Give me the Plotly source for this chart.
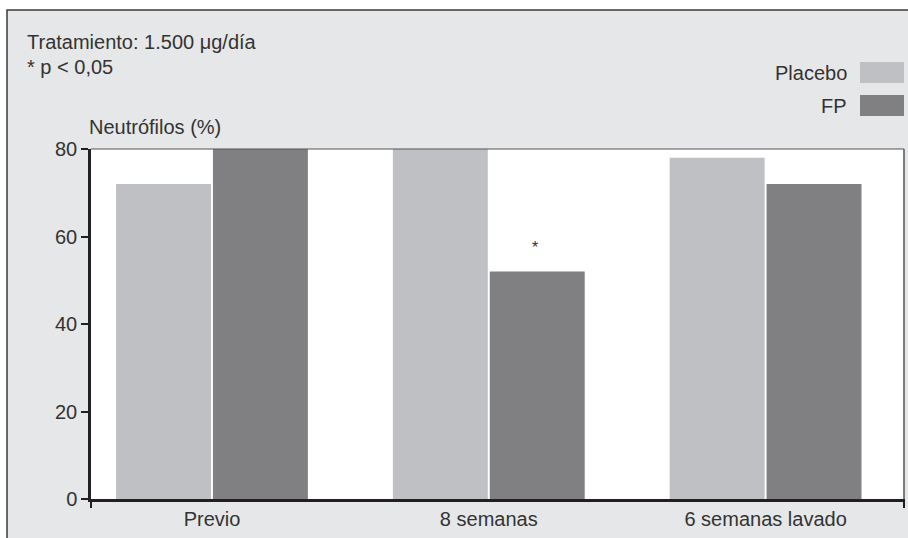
import plotly.graph_objects as go

categories = ["Previo", "8 semanas", "6 semanas lavado"]
placebo = [72, 80, 78]
fp = [80, 52, 72]
y_ticks = [0, 20, 40, 60, 80]

FONT = "Liberation Sans, Arial, sans-serif"
TXT = "#333333"
FS = 20
W, H = 908, 538
L, R, T, B = 91, 4, 149, 39
pw, ph = W - L - R, H - T - B

def px(x):
    return (x - L) / pw

def py(y):
    return (H - B - y) / ph

fig = go.Figure()
fig.add_bar(x=categories, y=placebo, name="Placebo", marker=dict(color="#bfc0c3", line=dict(width=0)))
fig.add_bar(x=categories, y=fp, name="FP", marker=dict(color="#808083", line=dict(width=0)))

shapes = [
    dict(type="rect", xref="paper", yref="paper", x0=px(7), x1=px(960), y0=py(600), y1=py(10),
         fillcolor="#e6e7e8", line=dict(color="#3a3a3a", width=1.5), layer="below"),
    dict(type="rect", xref="paper", yref="paper", x0=0, x1=1, y0=0, y1=1,
         fillcolor="white", line=dict(width=0), layer="below"),
    dict(type="line", xref="paper", yref="paper", x0=0, x1=1, y0=1, y1=1, line=dict(color="#555", width=1.2)),
    dict(type="line", xref="paper", yref="paper", x0=1, x1=1, y0=0, y1=1, line=dict(color="#555", width=1.5)),
    dict(type="line", xref="paper", yref="paper", x0=0, x1=0, y0=0, y1=py(508), line=dict(color="#231f20", width=2)),
    dict(type="line", xref="paper", yref="paper", x0=1, x1=1, y0=0, y1=py(508), line=dict(color="#231f20", width=2)),
    dict(type="rect", xref="paper", yref="paper", x0=px(860), x1=px(904), y0=py(83), y1=py(62),
         fillcolor="#bfc0c3", line=dict(width=0)),
    dict(type="rect", xref="paper", yref="paper", x0=px(860), x1=px(904), y0=py(116), y1=py(95),
         fillcolor="#808083", line=dict(width=0)),
]

def txt(text, x, y, anchor="left"):
    return dict(text=text, xref="paper", yref="paper", x=px(x), y=py(y), xanchor=anchor,
                yanchor="middle", showarrow=False, font=dict(size=FS, color=TXT, family=FONT))

annotations = [
    txt("Tratamiento: 1.500 μg/día", 25, 42),
    txt("* p < 0,05", 25, 67),
    txt("Neutrófilos (%)", 87, 127),
    txt("Placebo", 849, 73, "right"),
    txt("FP", 849, 106, "right"),
    dict(text="*", x="8 semanas", y=fp[1] + 5.5, xshift=46, showarrow=False,
         font=dict(size=16, color=TXT, family=FONT)),
]

fig.update_layout(
    width=W, height=H,
    margin=dict(l=L, r=R, t=T, b=B),
    paper_bgcolor="white", plot_bgcolor="white",
    barmode="group", bargap=0.3, bargroupgap=0.02,
    showlegend=False,
    shapes=shapes, annotations=annotations,
    xaxis=dict(type="category", range=[-0.437, 2.5], showgrid=False, zeroline=False,
               showline=True, linecolor="#231f20", linewidth=2.5, ticks="",
               tickfont=dict(size=FS, color=TXT, family=FONT)),
    yaxis=dict(range=[0, 80], tickvals=y_ticks, showgrid=False, zeroline=False,
               showline=True, linecolor="#231f20", linewidth=2.5, ticks="outside",
               ticklen=7, tickwidth=2, tickcolor="#231f20",
               tickfont=dict(size=FS, color=TXT, family=FONT)),
)

fig.write_html("out.html")
